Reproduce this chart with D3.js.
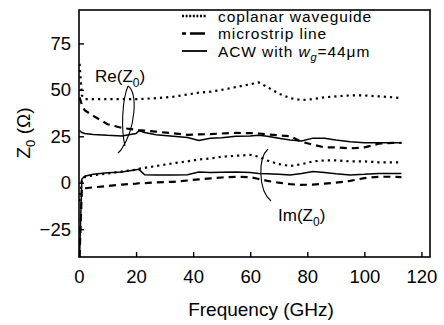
<!DOCTYPE html>
<html>
<head>
<meta charset="utf-8">
<script src="https://cdn.jsdelivr.net/npm/d3@7"></script>
<style>
  body { margin: 0; background: #fff; }
  svg { font-family: "Liberation Sans", Arial, sans-serif; }
  .frame { fill: none; stroke: #000; stroke-width: 1.6; }
  .series { fill: none; stroke: #000; }
</style>
</head>
<body>
<svg width="444" height="325"></svg>
<script>
// frequency points (GHz), shared by all series
const freq = [0.2, 1, 2, 5, 10, 15, 20, 21, 23, 27, 33, 38, 42, 46, 50, 55, 60, 63, 66, 70, 74, 78, 82, 86, 90, 95, 100, 105, 110, 113];

// real part
const cpwRe = [64, 47, 45, 45, 45, 45, 45, 45, 45.2, 45.5, 46.3, 47.5, 48.5, 49, 50, 51.5, 53, 54, 51.5, 48, 45.5, 44.5, 45, 46, 46.5, 47, 47, 46.5, 46, 45.5];
const msRe = [46, 42, 39, 36, 31.5, 29.5, 28.5, 28.3, 28, 27.5, 26.6, 25.8, 26, 26.2, 26.5, 26.8, 26.7, 26.5, 26, 25.5, 25, 22, 20.5, 19, 19, 18.5, 19, 21, 21.5, 21.5];
const acwRe = [28, 27, 26.5, 26, 25.5, 25.2, 26.5, 28, 27, 25.8, 25, 24.3, 22.8, 24, 24.2, 25, 25.2, 25.5, 25, 24, 23, 22.5, 24, 24, 23, 22, 21.5, 21.5, 21.5, 21.5];

// imaginary part
const cpwIm = [-10, 2, 3, 4, 5, 6, 7, 7.5, 8, 9, 10.5, 11.5, 12.5, 13, 14, 14.5, 15, 14, 12, 10, 9, 10, 11.5, 12, 12, 11.5, 11.5, 11, 11, 11];
const msIm = [-40, -3, -3, -2.5, -1.8, -1, -0.5, -0.3, -0.2, 0.2, 0.5, 1.2, 1.8, 2.3, 2.8, 3.2, 3, 2, 1, 0, -0.8, -1.2, -1, -0.5, 0, 1, 2.5, 3.2, 3.2, 3];
const acwIm = [-40, 2, 3.5, 4.5, 5.4, 5.8, 7, 7.2, 4.3, 4.2, 4.2, 4.3, 5.8, 5.5, 5.6, 5.8, 5.5, 5, 4.8, 4.5, 4.2, 5, 6, 5.5, 4.8, 4.2, 4.5, 5, 5, 5];

const xTicks = [0, 20, 40, 60, 80, 100, 120];
const yTicks = [-25, 0, 25, 50, 75];

const styles = {
  cpw: { dash: '2.2,4', width: 2.2 },
  ms: { dash: '7,5', width: 2.2 },
  acw: { dash: null, width: 1.5 }
};

const seriesList = [
  { key: 'cpw', values: cpwRe }, { key: 'cpw', values: cpwIm },
  { key: 'ms', values: msRe }, { key: 'ms', values: msIm },
  { key: 'acw', values: acwRe }, { key: 'acw', values: acwIm }
];

const svg = d3.select('svg');
const plot = { left: 79, right: 430, top: 10, bottom: 257 };

const x = d3.scaleLinear().domain([0, 123]).range([plot.left, plot.right]);
const y = d3.scaleLinear().domain([-40, 93]).range([plot.bottom, plot.top]);

svg.append('defs').append('clipPath').attr('id', 'plot')
  .append('rect').attr('x', plot.left).attr('y', plot.top)
  .attr('width', plot.right - plot.left).attr('height', plot.bottom - plot.top);

const line = d3.line().x((d, i) => x(freq[i])).y(d => y(d));

svg.append('g').attr('clip-path', 'url(#plot)')
  .selectAll('path')
  .data(seriesList)
  .join('path')
    .attr('class', 'series')
    .attr('d', s => line(s.values))
    .attr('stroke-width', s => styles[s.key].width)
    .attr('stroke-dasharray', s => styles[s.key].dash);

// axes with inward ticks
const xAxis = svg.append('g').attr('transform', `translate(0,${plot.bottom})`)
  .call(d3.axisBottom(x).tickValues(xTicks).tickSize(-5).tickPadding(13));
const yAxis = svg.append('g').attr('transform', `translate(${plot.left},0)`)
  .call(d3.axisLeft(y).tickValues(yTicks).tickSize(-5).tickPadding(8));

[xAxis, yAxis].forEach(a => {
  a.select('.domain').remove();
  a.selectAll('line').attr('stroke', '#000').attr('stroke-width', 1.4);
  a.selectAll('text').attr('font-size', 18.5).attr('fill', '#000')
    .attr('font-family', '"Liberation Sans", Arial, sans-serif');
});
xAxis.selectAll('text').attr('dy', '0.71em');

svg.append('rect').attr('class', 'frame')
  .attr('x', plot.left).attr('y', plot.top)
  .attr('width', plot.right - plot.left).attr('height', plot.bottom - plot.top);

// axis titles
svg.append('text').attr('x', 261).attr('y', 316).attr('text-anchor', 'middle')
  .attr('font-size', 19).text('Frequency (GHz)');

const yt = svg.append('text').attr('transform', 'translate(30,133) rotate(-90)')
  .attr('text-anchor', 'middle').attr('font-size', 19);
yt.append('tspan').text('Z');
yt.append('tspan').attr('dy', 5).attr('font-size', 13).text('0');
yt.append('tspan').attr('dy', -5).text(' (Ω)');

// legend
const legend = svg.append('g');
const legendItems = [
  { key: 'cpw', label: 'coplanar waveguide' },
  { key: 'ms', label: 'microstrip line' },
  { key: 'acw', label: null }
];
legendItems.forEach((d, i) => {
  const ly = 16 + i * 17.5;
  legend.append('line').attr('x1', 182).attr('x2', 207).attr('y1', ly).attr('y2', ly)
    .attr('stroke', '#000').attr('stroke-width', d.key === 'acw' ? 1.8 : 2.6)
    .attr('stroke-dasharray', d.key === 'cpw' ? '2,1.6' : d.key === 'ms' ? '4,4,11,0' : null);
  const t = legend.append('text').attr('x', 218).attr('y', ly + 5.5)
    .attr('font-size', 15.5).attr('letter-spacing', 0.9);
  if (d.label) {
    t.text(d.label);
  } else {
    t.append('tspan').text('ACW with ');
    t.append('tspan').attr('font-style', 'italic').text('w');
    t.append('tspan').attr('font-style', 'italic').attr('dy', 4).attr('font-size', 11).text('g');
    t.append('tspan').attr('dy', -4).text('=44μm');
  }
});

// Re / Im annotations
const re = svg.append('text').attr('x', 95).attr('y', 82).attr('font-size', 17);
re.append('tspan').text('Re(Z');
re.append('tspan').attr('dy', 5).attr('font-size', 12).text('0');
re.append('tspan').attr('dy', -5).text(')');

const im = svg.append('text').attr('x', 278).attr('y', 221).attr('font-size', 17);
im.append('tspan').text('Im(Z');
im.append('tspan').attr('dy', 5).attr('font-size', 12).text('0');
im.append('tspan').attr('dy', -5).text(')');

svg.append('path')
  .attr('d', 'M128,86 C138,92 136,128 121,150 M128,86 C122,100 121,130 125,146 M121,150 L118,153')
  .attr('fill', 'none').attr('stroke', '#000').attr('stroke-width', 1.1);
svg.append('path')
  .attr('d', 'M268,149 C258,158 258,190 271,201')
  .attr('fill', 'none').attr('stroke', '#000').attr('stroke-width', 1.1);
</script>
</body>
</html>
